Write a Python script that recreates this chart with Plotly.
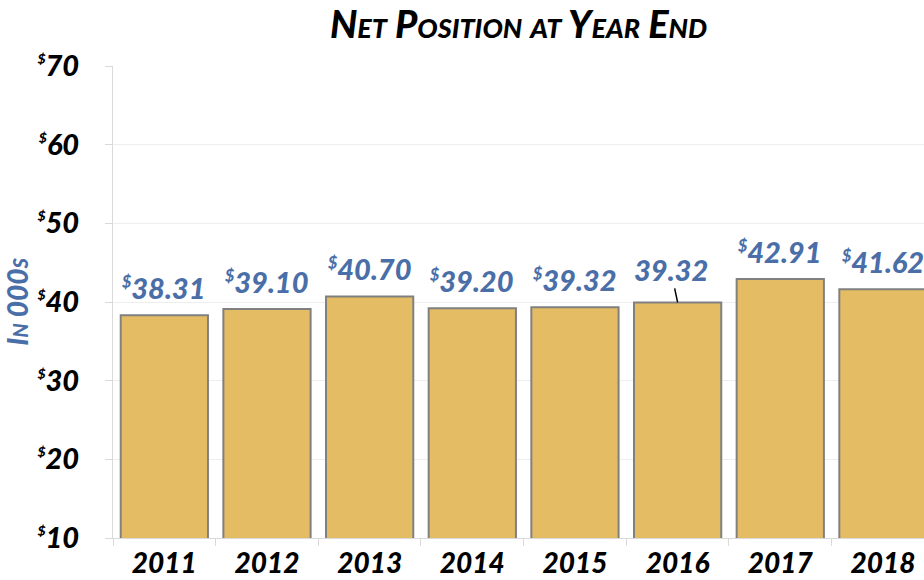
import plotly.graph_objects as go

years = ["2011", "2012", "2013", "2014", "2015", "2016", "2017", "2018"]
net_position = [38.31, 39.10, 40.70, 39.20, 39.32, 39.95, 42.91, 41.62]
value_labels = ["$38.31", "$39.10", "$40.70", "$39.20", "$39.32", "39.32", "$42.91", "$41.62"]
y_ticks = [10, 20, 30, 40, 50, 60, 70]
y_tick_labels = ["$10", "$20", "$30", "$40", "$50", "$60", "$70"]

FONT = "Lato"
BLUE = "#4A6EA8"

def dollar(s, size):
    if s.startswith("$"):
        return f"<sup><span style='font-size:{size}px'>$</span></sup>" + s[1:]
    return s

fig = go.Figure()
fig.add_trace(go.Bar(
    x=years, y=net_position,
    marker=dict(color="#E4BC64", line=dict(color="#808080", width=2)),
    width=0.85,
    hoverinfo="skip",
))

annotations = []
for i, (v, lab) in enumerate(zip(net_position, value_labels)):
    lf = dict(family=FONT, size=29, color=BLUE, weight=900, style="italic")
    if lab.startswith("$"):
        annotations.append(dict(
            x=i, y=v, xref="x", yref="y", text=dollar(lab, 16),
            showarrow=False, yanchor="bottom", yshift=8, font=lf,
        ))
    else:
        annotations.append(dict(
            x=i, y=v, xref="x", yref="y", text=lab,
            showarrow=True, arrowhead=0, arrowwidth=1.5, arrowcolor="black",
            ax=-7, ay=-33, standoff=0, font=lf,
        ))

fig.update_layout(
    width=924, height=580,
    margin=dict(l=113, r=0, t=66, b=42),
    plot_bgcolor="white", paper_bgcolor="white",
    showlegend=False,
    title=dict(
        text="Net Position at Year End",
        x=(113 + 924) / 2 / 924, xanchor="center", y=0.958, yanchor="middle",
        font=dict(family=FONT, size=38, color="black", weight=900, style="italic", variant="small-caps"),
    ),
    annotations=annotations,
    xaxis=dict(
        type="category",
        range=[-0.5, 7.4],
        showgrid=False,
        showline=True, linecolor="#D9D9D9", linewidth=1,
        ticks="outside", tickson="boundaries", ticklen=7, tickcolor="#D9D9D9",
        tickfont=dict(family=FONT, size=28, color="black", weight=900, style="italic"),
    ),
    yaxis=dict(
        range=[10, 70],
        tickvals=y_ticks,
        ticktext=[dollar(t, 14) for t in y_tick_labels],
        showgrid=True, gridcolor="#EEEEEE", gridwidth=1,
        showline=True, linecolor="#D9D9D9", linewidth=1,
        ticks="outside", ticklen=7, tickcolor="#D9D9D9",
        ticklabelstandoff=20,
        zeroline=False,
        tickfont=dict(family=FONT, size=29, color="black", weight=900, style="italic"),
        title=dict(
            text="In 000s", standoff=10,
            font=dict(family=FONT, size=28, color=BLUE, weight=900, style="italic", variant="small-caps"),
        ),
    ),
)

fig.write_html("out.html", config={"displayModeBar": False},
               post_script="document.body.style.margin='0';")
